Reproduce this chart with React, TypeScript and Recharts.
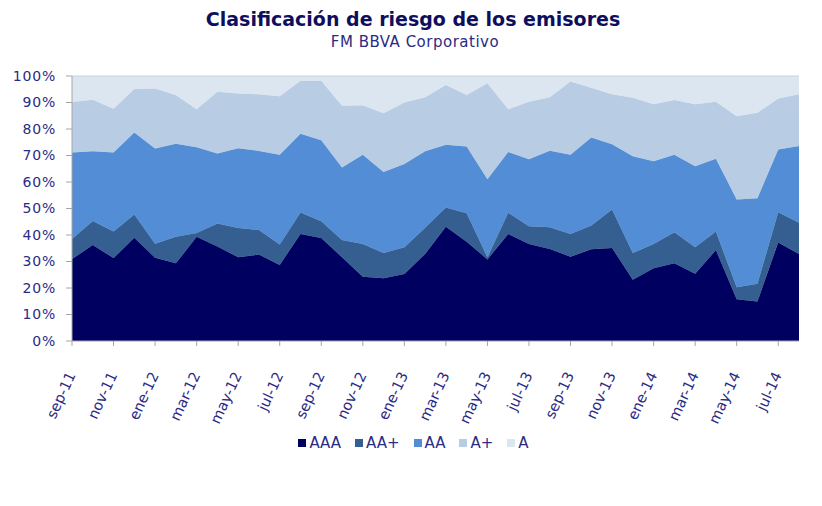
import React from 'react';
import { AreaChart, Area, XAxis, YAxis, Legend } from 'recharts';

const categories = [
  'sep-11', 'oct-11', 'nov-11', 'dic-11', 'ene-12', 'feb-12', 'mar-12', 'abr-12', 'may-12', 'jun-12', 'jul-12', 'ago-12',
  'sep-12', 'oct-12', 'nov-12', 'dic-12', 'ene-13', 'feb-13', 'mar-13', 'abr-13', 'may-13', 'jun-13', 'jul-13', 'ago-13',
  'sep-13', 'oct-13', 'nov-13', 'dic-13', 'ene-14', 'feb-14', 'mar-14', 'abr-14', 'may-14', 'jun-14', 'jul-14', 'ago-14',
];

const aaa = [
  30.9, 36.2, 31.3, 39.0, 31.4, 29.3, 39.3, 35.7, 31.6, 32.6, 28.7, 40.4,
  38.9, 31.6, 24.2, 23.7, 25.3, 32.8, 43.1, 37.5, 30.8, 40.4, 36.6, 34.7,
  31.8, 34.6, 35.1, 23.1, 27.5, 29.3, 25.4, 34.3, 15.8, 14.9, 37.2, 32.8,
];
const aaPlus = [
  7.6, 9.1, 10.0, 8.7, 5.3, 10.0, 1.5, 8.6, 11.0, 9.3, 7.7, 8.1,
  6.3, 6.5, 12.4, 9.5, 10.1, 9.9, 7.3, 10.7, 0.8, 8.0, 6.7, 8.2,
  8.6, 9.0, 14.5, 10.1, 9.1, 11.7, 10.0, 7.0, 4.5, 6.7, 11.4, 11.8,
];
const aa = [
  32.6, 26.3, 29.8, 31.0, 35.9, 35.1, 32.3, 26.5, 30.1, 29.8, 33.9, 29.7,
  30.6, 27.4, 33.7, 30.6, 31.4, 28.9, 23.7, 25.2, 29.4, 22.9, 25.3, 28.9,
  29.9, 33.2, 24.6, 36.5, 31.2, 29.3, 30.5, 27.5, 33.1, 32.3, 23.7, 29.0,
];
const aPlus = [
  19.1, 19.4, 16.5, 16.4, 22.7, 18.4, 14.4, 23.3, 20.7, 21.4, 22.1, 20.0,
  22.4, 23.3, 18.7, 22.1, 23.2, 20.4, 22.5, 19.4, 36.3, 16.2, 21.7, 20.2,
  27.6, 18.8, 18.9, 22.1, 21.5, 20.6, 23.4, 21.5, 31.4, 32.2, 19.2, 19.5,
];
const aRating = [
  9.8, 9.0, 12.4, 4.9, 4.7, 7.2, 12.5, 5.9, 6.6, 6.9, 7.6, 1.8,
  1.8, 11.2, 11.0, 14.1, 10.0, 8.0, 3.4, 7.2, 2.7, 12.5, 9.7, 8.0,
  2.1, 4.4, 6.9, 8.2, 10.7, 9.1, 10.7, 9.7, 15.2, 13.9, 8.5, 6.9,
];

const yTicks = [0, 0.1, 0.2, 0.3, 0.4, 0.5, 0.6, 0.7, 0.8, 0.9, 1];

const seriesNames = ['AAA', 'AA+', 'AA', 'A+', 'A'];
const seriesColors = ['#000060', '#365F91', '#538DD5', '#B8CCE4', '#DCE6F1'];

const data = categories.map((month, i) => ({
  month,
  AAA: aaa[i],
  'AA+': aaPlus[i],
  AA: aa[i],
  'A+': aPlus[i],
  A: aRating[i],
}));

const FONT = 'Verdana, "DejaVu Sans", sans-serif';
const TEXT_COLOR = '#2B2B85';

const XTick = (props: any) => {
  const { x, y, payload } = props;
  return (
    <g transform={`translate(${x + 4},${y + 27}) rotate(-65)`}>
      <text x={0} y={0} textAnchor="end" fill={TEXT_COLOR} fontSize={14.5} fontFamily={FONT}>
        {payload.value}
      </text>
    </g>
  );
};

const LegendContent = () => (
  <div
    style={{
      display: 'flex',
      justifyContent: 'center',
      alignItems: 'center',
      height: 20,
      paddingLeft: 28,
      fontFamily: FONT,
      fontSize: 15,
      color: TEXT_COLOR,
    }}
  >
    {seriesNames.map((name, i) => (
      <div key={name} style={{ display: 'flex', alignItems: 'center', marginRight: i < seriesNames.length - 1 ? 14 : 0 }}>
        <span style={{ display: 'inline-block', width: 8, height: 8, background: seriesColors[i], marginRight: 3 }} />
        <span style={{ lineHeight: '20px' }}>{name}</span>
      </div>
    ))}
  </div>
);

export default function App() {
  return (
    <div style={{ position: 'absolute', left: 0, top: 0, width: 822, height: 506, background: '#fff' }}>
      <div
        style={{
          position: 'absolute',
          left: 0,
          top: 9.6,
          width: 822,
          textAlign: 'center',
          fontFamily: FONT,
          fontWeight: 'bold',
          fontSize: 19,
          lineHeight: 1,
          color: '#0E0E5C',
          paddingLeft: 2,
        }}
      >
        Clasificación de riesgo de los emisores
      </div>
      <div
        style={{
          position: 'absolute',
          left: 0,
          top: 34.6,
          width: 822,
          textAlign: 'center',
          fontFamily: FONT,
          fontSize: 15,
          lineHeight: 1,
          letterSpacing: 0.5,
          color: TEXT_COLOR,
          paddingLeft: 4,
        }}
      >
        FM BBVA Corporativo
      </div>
      <AreaChart
        width={822}
        height={506}
        data={data}
        stackOffset="expand"
        margin={{ top: 76, right: 23, left: 0, bottom: 53 }}
      >
        <XAxis
          dataKey="month"
          interval={1}
          height={92}
          tickSize={5}
          tickMargin={2}
          axisLine={{ stroke: '#A6A6A6' }}
          tickLine={{ stroke: '#A6A6A6' }}
          tick={<XTick />}
        />
        <YAxis
          width={72}
          domain={[0, 1]}
          ticks={yTicks}
          tickFormatter={(v: number) => `${Math.round(v * 100)}%`}
          tickSize={6}
          tickMargin={10}
          axisLine={{ stroke: '#A6A6A6' }}
          tickLine={{ stroke: '#A6A6A6' }}
          tick={{ fill: TEXT_COLOR, fontSize: 14, fontFamily: FONT, letterSpacing: 0.8 }}
        />
        <Legend verticalAlign="bottom" content={<LegendContent />} />
        {seriesNames.map((name, i) => (
          <Area
            key={name}
            type="linear"
            dataKey={name}
            stackId="1"
            fill={seriesColors[i]}
            fillOpacity={1}
            stroke={i === 4 ? '#C9D3E0' : seriesColors[i]}
            strokeWidth={i === 4 ? 1 : 0.5}
            isAnimationActive={false}
            dot={false}
            activeDot={false}
          />
        ))}
      </AreaChart>
    </div>
  );
}
